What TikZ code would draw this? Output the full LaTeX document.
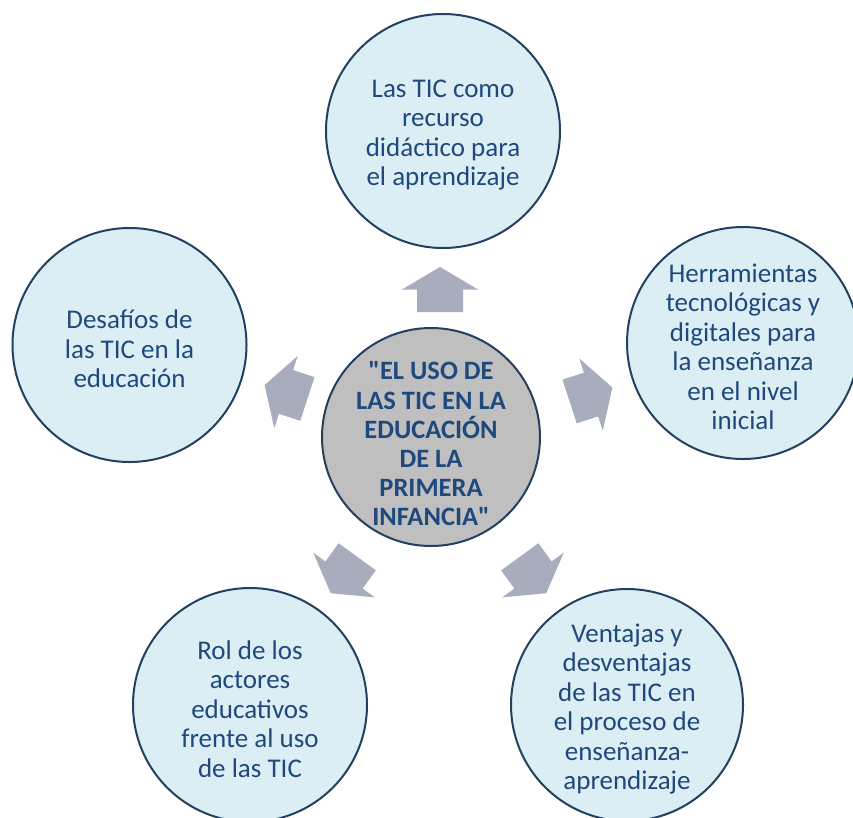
\documentclass[tikz,border=0pt]{standalone}
\usepackage{fontspec}
\setmainfont{Carlito}[Ligatures=TeXOff]
\definecolor{bubblefill}{RGB}{218,238,243}
\definecolor{bubbleline}{RGB}{36,64,97}
\definecolor{hubfill}{RGB}{191,191,191}
\definecolor{arrowfill}{RGB}{167,173,189}
\definecolor{txtblue}{RGB}{31,73,125}
\tikzset{
  bubble/.style={circle, draw=bubbleline, line width=2pt, fill=bubblefill, inner sep=0pt, minimum size=#1},
  hub/.style={circle, draw=bubbleline, line width=2pt, fill=hubfill, inner sep=0pt, minimum size=#1},
  bubtext/.style={align=center, text=txtblue, inner sep=0pt, yshift=-4pt, font=\fontsize{27}{29.5}\selectfont},
  hubtext/.style={align=center, text=txtblue, inner sep=0pt, yshift=-7pt, font=\fontsize{26.5}{29.2}\selectfont\bfseries},
  radarrow/.pic={\fill[arrowfill] (-22.5,-23) -- (0,-23) -- (0,-38) -- (22.5,0) -- (0,38) -- (0,23) -- (-22.5,23) -- cycle;}
}
\begin{document}
\begin{tikzpicture}[x=1pt,y=-1pt]
\useasboundingbox (0,0) rectangle (853,817);
\clip (0,0) rectangle (853,817);
\fill[white] (0,0) rectangle (853,817);

% outer bubbles
\node[bubble=234pt] (top) at (443,131) {};
\node[bubble=234pt] (left) at (129.5,345) {};
\node[bubble=232pt] (right) at (743,343) {};
\node[bubble=234pt] (botleft) at (250,705) {};
\node[bubble=232pt] (botright) at (627,705) {};
% hub
\node[hub=218pt] (hub) at (431,437) {};

% texts
\node[bubtext] (ttop) at (top) {Las TIC como\\recurso\\didáctico para\\el aprendizaje};
\node[bubtext] (tleft) at (left) {Desafíos de\\las TIC en la\\educación};
\node[bubtext] (tright) at (right) {Herramientas\\tecnológicas y\\digitales para\\la enseñanza\\en el nivel\\inicial};
\node[bubtext] (tbotleft) at (botleft) {Rol de los\\actores\\educativos\\frente al uso\\de las TIC};
\node[bubtext] (tbotright) at (botright) {Ventajas y\\desventajas\\de las TIC en\\el proceso de\\enseñanza-\\aprendizaje};
\node[hubtext] (thub) at (hub) {"EL USO DE\\LAS TIC EN LA\\EDUCACIÓN\\DE LA\\PRIMERA\\INFANCIA"};

% arrows
\pic[rotate=90] (aup) at (440,289.5) {radarrow};
\pic[rotate=18] (aright) at (591,394.5) {radarrow};
\pic[rotate=-54] (abotright) at (533,575) {radarrow};
\pic[rotate=-126] (abotleft) at (344,575) {radarrow};
\pic[rotate=162] (aleft) at (286,392) {radarrow};
\end{tikzpicture}
\end{document}
